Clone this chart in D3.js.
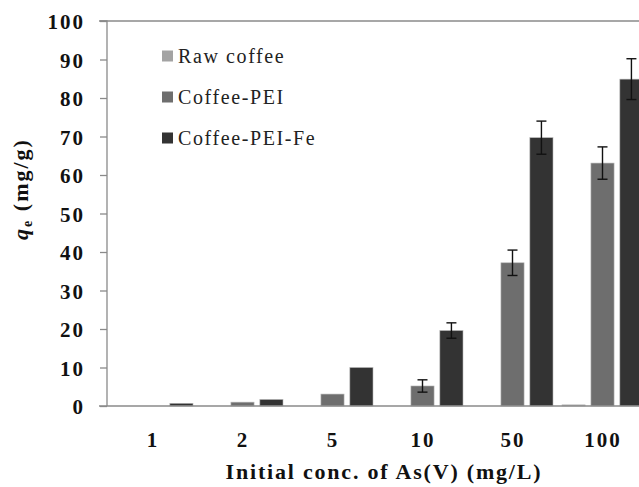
<!DOCTYPE html>
<html><head><meta charset="utf-8">
<script src="https://cdn.jsdelivr.net/npm/d3@7"></script>
<style>html,body{margin:0;padding:0;background:#fff;}svg{display:block;font-family:"Liberation Serif","Times New Roman",serif;}</style>
</head><body>
<svg id="c" width="639" height="487"></svg>
<script>
const categories = ["1","2","5","10","50","100"];
const seriesNames = ["Raw coffee","Coffee-PEI","Coffee-PEI-Fe"];
const rawCoffee = [0, 0, 0, 0, 0, 0.3];
const coffeePEI = [0, 1.0, 3.1, 5.2, 37.2, 63.1];
const coffeePEIFe = [0.7, 1.7, 10.0, 19.6, 69.7, 84.9];
const errRaw = [0, 0, 0, 0, 0, 0];
const errPEI = [0, 0, 0, 1.6, 3.3, 4.2];
const errFe = [0, 0, 0, 2.0, 4.3, 5.3];
const yTicks = [0,10,20,30,40,50,60,70,80,90,100];
const colors = ["#a3a3a3","#6e6e6e","#333333"];

const values = [rawCoffee, coffeePEI, coffeePEIFe];
const errors = [errRaw, errPEI, errFe];
const FONT = "Liberation Serif, Times New Roman, serif";

const svg = d3.select("#c");
const x0 = d3.scaleBand().domain(categories).range([107, 647]).padding(0);
const x1 = d3.scaleBand().domain(seriesNames).range([5, 86]).paddingInner(0.2).paddingOuter(0);
const y = d3.scaleLinear().domain([0, 100]).range([406, 21]);

// top line at 100
svg.append("line").attr("x1", 99).attr("x2", 639).attr("y1", y(100)).attr("y2", y(100))
  .attr("stroke", "#8a8a8a").attr("stroke-width", 1.3);

// bars
const data = [];
categories.forEach((c, i) => seriesNames.forEach((s, j) => data.push({c, s, j, v: values[j][i], e: errors[j][i]})));
svg.append("g").selectAll("rect").data(data).join("rect")
  .attr("x", d => x0(d.c) + x1(d.s))
  .attr("width", x1.bandwidth())
  .attr("y", d => y(d.v))
  .attr("height", d => y(0) - y(d.v))
  .attr("fill", d => colors[d.j])
  .attr("stroke", "#b8b8b8").attr("stroke-width", 0.6);

// error bars
const eg = svg.append("g").attr("stroke", "#111").attr("stroke-width", 1.4);
data.filter(d => d.e > 0).forEach(d => {
  const cx = x0(d.c) + x1(d.s) + x1.bandwidth() / 2;
  eg.append("line").attr("x1", cx).attr("x2", cx).attr("y1", y(d.v + d.e)).attr("y2", y(d.v - d.e));
  eg.append("line").attr("x1", cx - 5).attr("x2", cx + 5).attr("y1", y(d.v + d.e)).attr("y2", y(d.v + d.e));
  eg.append("line").attr("x1", cx - 5).attr("x2", cx + 5).attr("y1", y(d.v - d.e)).attr("y2", y(d.v - d.e));
});

// y axis
const ya = svg.append("g").attr("transform", "translate(107,0)")
  .call(d3.axisLeft(y).tickValues(yTicks).tickSize(7).tickPadding(15));
ya.attr("font-family", FONT);
ya.select(".domain").attr("stroke", "#8a8a8a").attr("stroke-width", 1.3).attr("d", `M-7,${y(100)}H0V${y(0)}`);
ya.selectAll(".tick line").attr("stroke", "#8a8a8a").attr("stroke-width", 1.3);
ya.selectAll(".tick text").attr("font-family", FONT).attr("font-size", 21)
  .attr("font-weight", "bold").attr("fill", "#111").attr("letter-spacing", 2).attr("dy", "0.36em");

// x baseline
svg.append("line").attr("x1", 99).attr("x2", 639).attr("y1", y(0)).attr("y2", y(0))
  .attr("stroke", "#8a8a8a").attr("stroke-width", 1.3);

// x labels
const xa = svg.append("g").attr("transform", `translate(0,${y(0)})`)
  .call(d3.axisBottom(x0).tickSize(0).tickPadding(26));
xa.attr("font-family", FONT);
xa.select(".domain").remove();
xa.selectAll(".tick text").attr("font-family", FONT).attr("font-size", 21)
  .attr("font-weight", "bold").attr("fill", "#111").attr("letter-spacing", 2)
  .attr("dx", 1);

// x title
svg.append("text").attr("x", 384).attr("y", 479).attr("text-anchor", "middle").attr("font-family", FONT)
  .attr("font-size", 22).attr("font-weight", "bold").attr("fill", "#111").attr("letter-spacing", 1.8)
  .text("Initial conc. of As(V) (mg/L)");

// y title
const yt = svg.append("text").attr("transform", "translate(28,189) rotate(-90)").attr("text-anchor", "middle")
  .attr("font-family", FONT).attr("font-size", 22).attr("font-weight", "bold").attr("fill", "#111").attr("letter-spacing", 2);
yt.append("tspan").attr("font-style", "italic").text("q");
yt.append("tspan").attr("font-size", 14).attr("dy", 4).text("e");
yt.append("tspan").attr("dy", -4).text(" (mg/g)");

// legend
const lg = svg.append("g").attr("font-family", FONT);
seriesNames.forEach((s, j) => {
  const ly = 56 + j * 41;
  lg.append("rect").attr("x", 162).attr("y", ly - 5.5).attr("width", 11).attr("height", 11).attr("fill", colors[j]);
  lg.append("text").attr("x", 178).attr("y", ly).attr("dy", "0.35em").attr("font-size", 20)
    .attr("fill", "#222").attr("letter-spacing", 1.6).text(s);
});
</script>
</body></html>
